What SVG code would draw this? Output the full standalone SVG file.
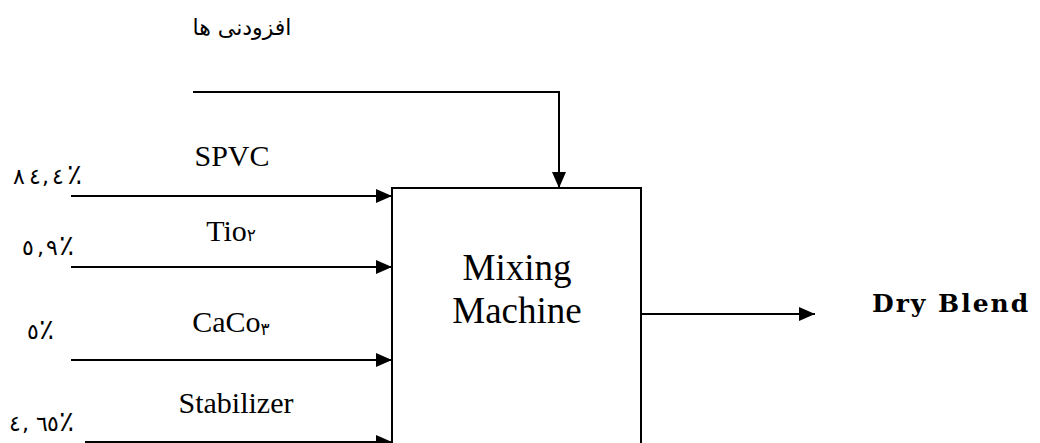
<svg xmlns="http://www.w3.org/2000/svg" width="1040" height="443" viewBox="0 0 1040 443">
<style>
.lbl{font-family:"Liberation Serif","DejaVu Serif",serif;font-size:30px;fill:#000;text-anchor:middle}
.big{font-size:37px}
.pct{font-family:"DejaVu Sans","Noto Sans",sans-serif;font-size:22px;fill:#000}
.ps{font-size:28px}
.sub{font-family:"DejaVu Sans",sans-serif;font-size:17px}
.ln{stroke:#000;stroke-width:2;fill:none}
.box{stroke:#000;stroke-width:2;fill:#fff}
</style>
<defs>
<marker id="ah" viewBox="0 0 16 14" refX="16" refY="7" markerWidth="16" markerHeight="14" markerUnits="userSpaceOnUse" orient="auto">
<path d="M0,0 L16,7 L0,14 Z" fill="#000"/>
</marker>
</defs>
<rect width="1040" height="443" fill="#fff"/>
<g id="connectors">
<path class="ln" d="M193,92 H559 V188" marker-end="url(#ah)"/>
<line class="ln" x1="71" y1="196" x2="392" y2="196" marker-end="url(#ah)"/>
<line class="ln" x1="71" y1="267" x2="392" y2="267" marker-end="url(#ah)"/>
<line class="ln" x1="71" y1="360" x2="392" y2="360" marker-end="url(#ah)"/>
<line class="ln" x1="85" y1="442" x2="392" y2="442" marker-end="url(#ah)"/>
<line class="ln" x1="641" y1="314" x2="815" y2="314" marker-end="url(#ah)"/>
</g>
<g id="additives">
<text x="242" y="35" font-family="'DejaVu Sans','Noto Sans',sans-serif" font-size="22" text-anchor="middle" direction="rtl">افزودنی ها</text>
</g>
<g id="spvc">
<text class="lbl" x="232" y="166">SPVC</text>
<text class="pct" x="13 29 42 52" y="184" direction="ltr" unicode-bidi="bidi-override">٨٤,٤<tspan class="ps" x="67">٪</tspan></text>
</g>
<g id="tio2">
<text class="lbl" x="231" y="241">Tio<tspan class="sub">۲</tspan></text>
<text class="pct" x="22 37 46" y="255" direction="ltr" unicode-bidi="bidi-override">٥,٩<tspan class="ps" x="59">٪</tspan></text>
</g>
<g id="caco3">
<text class="lbl" x="231" y="332">CaCo<tspan class="sub" dy="3">۳</tspan></text>
<text class="pct" x="27" y="339" direction="ltr" unicode-bidi="bidi-override">٥<tspan class="ps" x="39">٪</tspan></text>
</g>
<g id="stabilizer">
<text class="lbl" x="236" y="413">Stabilizer</text>
<text class="pct" x="9 22 36 47" y="431" direction="ltr" unicode-bidi="bidi-override">٤,٦٥<tspan class="ps" x="59">٪</tspan></text>
</g>
<g id="mixing-machine">
<rect class="box" x="392" y="188" width="249" height="270"/>
<text class="lbl big" x="517" y="280">Mixing</text>
<text class="lbl big" x="517" y="323">Machine</text>
</g>
<g id="dry-blend">
<text x="872" y="312" font-family="'DejaVu Serif','Liberation Serif',serif" font-weight="bold" font-size="25" letter-spacing="2" fill="#000">Dry Blend</text>
</g>
</svg>
